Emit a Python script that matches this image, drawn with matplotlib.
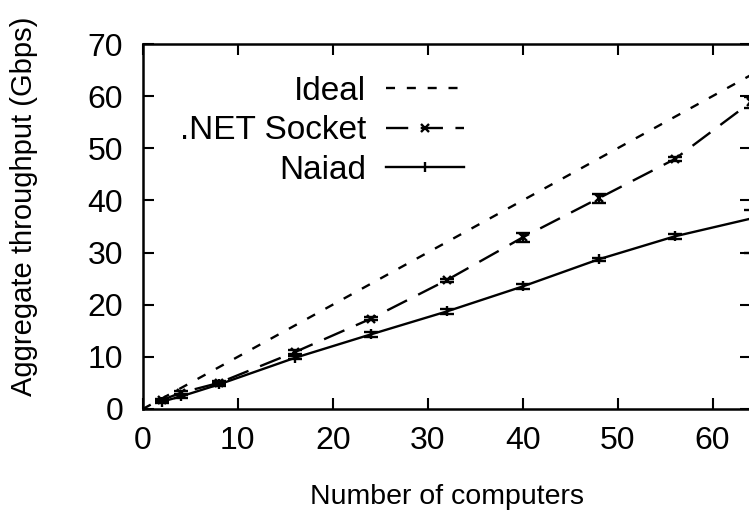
import matplotlib
matplotlib.use("Agg")
import matplotlib.pyplot as plt
from matplotlib.lines import Line2D

plt.rcParams['font.family'] = ['Liberation Sans', 'DejaVu Sans']
plt.rcParams['lines.scale_dashes'] = False

computers = [2, 4, 8, 16, 24, 32, 40, 48, 56, 64]
ideal_x = [0, 64]
ideal_y = [0, 64]

net_socket = [1.7, 3.1, 5.0, 10.9, 17.3, 24.7, 32.9, 40.4, 47.9, 58.8]
net_err_lo = [0.3, 0.3, 0.3, 0.4, 0.3, 0.3, 0.9, 0.9, 0.4, 1.1]
net_err_hi = [0.3, 0.3, 0.3, 0.4, 0.3, 0.3, 0.9, 0.9, 0.4, 1.0]

naiad = [1.4, 2.4, 4.7, 9.8, 14.3, 18.7, 23.5, 28.7, 33.1, 36.5]
naiad_err_lo = [0.3, 0.3, 0.3, 0.3, 0.5, 0.4, 0.5, 0.3, 0.5, 6.6]
naiad_err_hi = [0.3, 0.3, 0.3, 0.3, 0.5, 0.4, 0.5, 0.3, 0.5, 1.6]

x_ticks = [0, 10, 20, 30, 40, 50, 60]
y_ticks = [0, 10, 20, 30, 40, 50, 60, 70]

IDEAL_DASH = (6.5, 8.5)
NET_DASH = (16, 9)
LW = 1.7

fig = plt.figure(figsize=(7.49, 5.23), dpi=100)
ax = fig.add_axes([142.8 / 749, 1 - 409 / 523, (750.5 - 142.8) / 749, (409 - 44) / 523])

ax.plot(ideal_x, ideal_y, color='black', lw=LW, dashes=IDEAL_DASH)

ax.errorbar(computers, net_socket, yerr=[net_err_lo, net_err_hi], color='black',
            lw=LW, dashes=NET_DASH, marker='x', markersize=6, mew=1.7,
            ecolor='black', elinewidth=1.7, capsize=5, capthick=1.7, clip_on=False)

ax.errorbar(computers, naiad, yerr=[naiad_err_lo, naiad_err_hi], color='black',
            lw=LW, marker='|', markersize=7, mew=1.7,
            ecolor='black', elinewidth=1.7, capsize=5, capthick=1.7, clip_on=False)

ax.set_xlim(0, 64)
ax.set_ylim(0, 70)
ax.set_xticks(x_ticks)
ax.set_yticks(y_ticks)
ax.tick_params(direction='in', length=8, width=1.5, top=True, right=True,
               labelsize=23)
ax.tick_params(axis='x', pad=12)
ax.tick_params(axis='y', pad=14)
for s in ax.spines.values():
    s.set_linewidth(1.8)

ax.set_xlabel('Number of computers', fontsize=20.5)
ax.set_ylabel('Aggregate throughput (Gbps)', fontsize=21)
ax.xaxis.set_label_coords(0.5, -0.205)
ax.yaxis.set_label_coords(-0.172, 0.555)

handles = [
    Line2D([], [], color='black', lw=LW, dashes=IDEAL_DASH),
    Line2D([], [], color='black', lw=LW, dashes=NET_DASH, marker='x', markersize=6, mew=1.7),
    Line2D([], [], color='black', lw=LW, marker='|', markersize=7, mew=1.7),
]
labels = ['Ideal', '.NET Socket', 'Naiad']
ax.legend(handles, labels, loc='upper right', bbox_to_anchor=(0.528, 0.913),
          frameon=False, markerfirst=False, fontsize=24, handlelength=2.33,
          handletextpad=0.6, labelspacing=0.26, borderpad=0, borderaxespad=0)

fig.savefig('out.png', dpi=100)
